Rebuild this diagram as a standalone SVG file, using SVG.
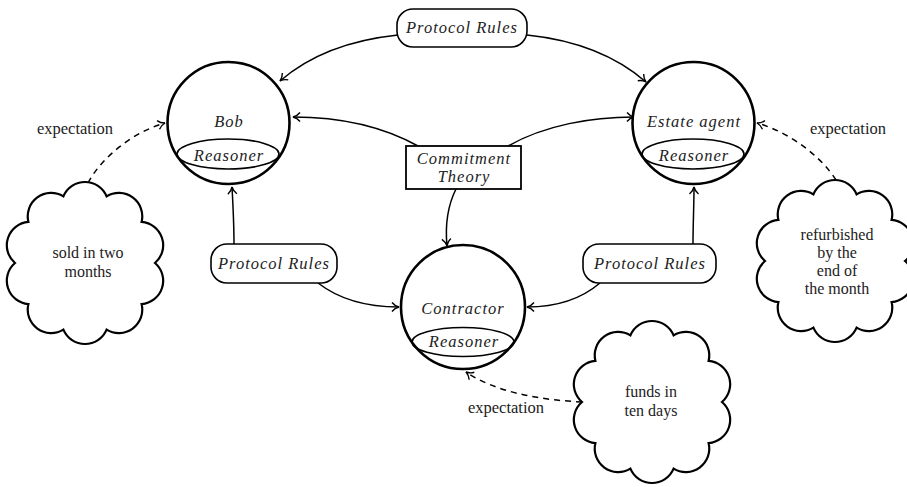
<svg xmlns="http://www.w3.org/2000/svg" width="907" height="487" viewBox="0 0 907 487">
<style>
text{font-family:"Liberation Serif","Times New Roman",serif;font-size:16.5px;fill:#222;text-anchor:middle}
.it{font-style:italic;letter-spacing:1px}
.ct{font-size:16px}
.agent{fill:#fff;stroke:#000;stroke-width:2.6}
.ell{fill:none;stroke:#000;stroke-width:1.6}
.box{fill:#fff;stroke:#000;stroke-width:1.6}
.cloud{fill:#fff;stroke:#000;stroke-width:2.2}
.conn{fill:none;stroke:#000;stroke-width:1.5;marker-end:url(#to)}
.dash{stroke-dasharray:6 5}
</style>
<defs>
<marker id="to" viewBox="-9 -6 11 12" markerWidth="11" markerHeight="12" refX="0" refY="0" orient="auto" markerUnits="userSpaceOnUse">
<path d="M-7,-4.5 C-5,-2 -2,-0.5 0,0 C-2,0.5 -5,2 -7,4.5" fill="none" stroke="#000" stroke-width="1.4" stroke-dasharray="none"/>
</marker>
</defs>
<g id="connectors">
<path class="conn" d="M398,35 C350,40 310,55 280,81"/>
<path class="conn" d="M527,35 C575,40 615,55 646,82"/>
<path class="conn" d="M418,146 C380,125 335,117 293,117"/>
<path class="conn" d="M508,146 C545,125 592,117 634,117"/>
<path class="conn" d="M456,189 C448,205 445,225 447,246"/>
<path class="conn" d="M234,244 C234,225 233,205 232,187"/>
<path class="conn" d="M693,244 C693,225 694,205 694,187"/>
<path class="conn" d="M318,283 C340,300 370,307 399,307"/>
<path class="conn" d="M600,283 C580,300 555,307 527,307"/>
<path class="conn dash" d="M88,183 C100,160 130,133 165,123"/>
<path class="conn dash" d="M836,180 C822,158 792,133 757,123"/>
<path class="conn dash" d="M582,402 C540,400 495,392 466,372"/>
<text x="75" y="134">expectation</text>
<text x="848" y="134">expectation</text>
<text x="506" y="413">expectation</text>
</g>
<g id="bob">
<circle class="agent" cx="228.5" cy="123" r="61"/>
<ellipse class="ell" cx="228" cy="154" rx="51" ry="15"/>
<text class="it" x="229" y="127">Bob</text>
<text class="it" x="229" y="161">Reasoner</text>
</g>
<g id="estate-agent">
<circle class="agent" cx="693.5" cy="123" r="61"/>
<ellipse class="ell" cx="693" cy="154" rx="51" ry="15"/>
<text class="it" x="694" y="127">Estate agent</text>
<text class="it" x="694" y="161">Reasoner</text>
</g>
<g id="contractor">
<circle class="agent" cx="463" cy="307" r="62"/>
<ellipse class="ell" cx="463" cy="342" rx="51" ry="14.5"/>
<text class="it" x="463" y="314">Contractor</text>
<text class="it" x="464" y="347">Reasoner</text>
</g>
<g id="protocol-top">
<rect class="box" x="397" y="9" width="130" height="38" rx="16"/>
<text class="it" x="462" y="33">Protocol Rules</text>
</g>
<g id="protocol-left">
<rect class="box" x="211" y="244" width="126" height="39" rx="16"/>
<text class="it" x="274" y="269">Protocol Rules</text>
</g>
<g id="protocol-right">
<rect class="box" x="583" y="244" width="133" height="39" rx="16"/>
<text class="it" x="650" y="269">Protocol Rules</text>
</g>
<g id="commitment-theory">
<rect class="box" x="406" y="146" width="115" height="43" style="stroke-width:1.8"/>
<text class="it" x="464" y="164">Commitment</text>
<text class="it" x="464" y="182">Theory</text>
</g>
<g id="cloud-left">
<path class="cloud" d="M155,263 A23.4,23.4 0 0 0 141.6,221.9 A23.4,23.4 0 0 0 106.6,196.4 A23.4,23.4 0 0 0 63.4,196.4 A23.4,23.4 0 0 0 28.4,221.9 A23.4,23.4 0 0 0 15,263 A23.4,23.4 0 0 0 28.4,304.1 A23.4,23.4 0 0 0 63.4,329.6 A23.4,23.4 0 0 0 106.6,329.6 A23.4,23.4 0 0 0 141.6,304.1 A23.4,23.4 0 0 0 155,263 Z"/>
<text class="ct" x="88" y="258">sold in two</text>
<text class="ct" x="88" y="277">months</text>
</g>
<g id="cloud-right">
<path class="cloud" d="M905,261 A23.4,23.4 0 0 0 891.6,219.9 A23.4,23.4 0 0 0 856.6,194.4 A23.4,23.4 0 0 0 813.4,194.4 A23.4,23.4 0 0 0 778.4,219.9 A23.4,23.4 0 0 0 765,261 A23.4,23.4 0 0 0 778.4,302.1 A23.4,23.4 0 0 0 813.4,327.6 A23.4,23.4 0 0 0 856.6,327.6 A23.4,23.4 0 0 0 891.6,302.1 A23.4,23.4 0 0 0 905,261 Z"/>
<text class="ct" x="837" y="239.5">refurbished</text>
<text class="ct" x="837" y="257.5">by the</text>
<text class="ct" x="837" y="275.5">end of</text>
<text class="ct" x="837" y="293.5">the month</text>
</g>
<g id="cloud-bottom">
<path class="cloud" d="M722,402 A23.4,23.4 0 0 0 708.6,360.9 A23.4,23.4 0 0 0 673.6,335.4 A23.4,23.4 0 0 0 630.4,335.4 A23.4,23.4 0 0 0 595.4,360.9 A23.4,23.4 0 0 0 582,402 A23.4,23.4 0 0 0 595.4,443.1 A23.4,23.4 0 0 0 630.4,468.6 A23.4,23.4 0 0 0 673.6,468.6 A23.4,23.4 0 0 0 708.6,443.1 A23.4,23.4 0 0 0 722,402 Z"/>
<text class="ct" x="651" y="397">funds in</text>
<text class="ct" x="651" y="416">ten days</text>
</g>
</svg>
